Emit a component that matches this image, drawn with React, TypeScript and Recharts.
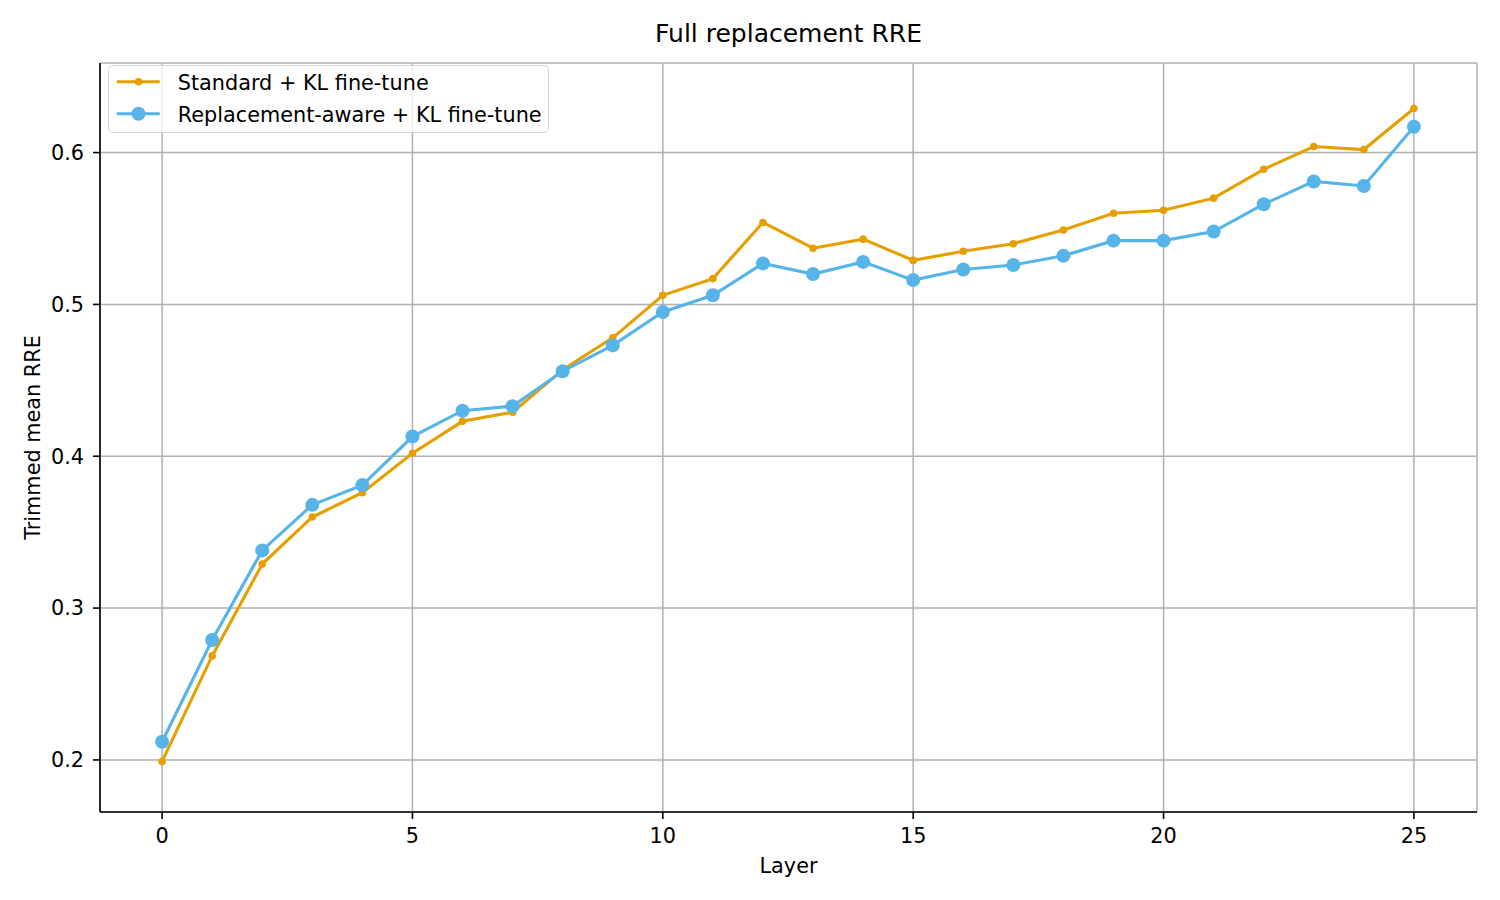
import React from "react";
import {
  CartesianGrid,
  Line,
  LineChart,
  XAxis,
  YAxis,
} from "recharts";

const layers = [0, 1, 2, 3, 4, 5, 6, 7, 8, 9, 10, 11, 12, 13, 14, 15, 16, 17, 18, 19, 20, 21, 22, 23, 24, 25];

const standardKl = [
  0.199, 0.2685, 0.329, 0.36, 0.376, 0.402, 0.423, 0.429, 0.457, 0.478, 0.506, 0.517, 0.554,
  0.537, 0.543, 0.529, 0.535, 0.54, 0.549, 0.56, 0.562, 0.57, 0.589, 0.604, 0.602, 0.629,
];

const replacementAwareKl = [
  0.212, 0.279, 0.338, 0.368, 0.381, 0.413, 0.43, 0.433, 0.456, 0.473, 0.495, 0.506, 0.527,
  0.52, 0.528, 0.516, 0.523, 0.526, 0.532, 0.542, 0.542, 0.548, 0.566, 0.581, 0.578, 0.617,
];

const xTicks = [0, 5, 10, 15, 20, 25];
const yTicks = [0.2, 0.3, 0.4, 0.5, 0.6];

const ORANGE = "#E69F00";
const BLUE = "#56B4E9";
const FONT = "'DejaVu Sans', sans-serif";
const FS = 20.8;

const legendItems = [
  { label: "Standard + KL fine-tune", color: ORANGE, r: 3.8 },
  { label: "Replacement-aware + KL fine-tune", color: BLUE, r: 7 },
];

const chartData = layers.map((layer, i) => ({
  layer,
  standard: standardKl[i],
  aware: replacementAwareKl[i],
}));

const tickStyle = { fontSize: FS, fill: "#000", fontFamily: FONT };
const axisStroke = { stroke: "#000", strokeWidth: 1.6 };

export default function App() {
  return (
    <div
      style={{
        position: "absolute",
        left: 0,
        top: 0,
        width: 1500,
        height: 900,
        background: "#fff",
        fontFamily: FONT,
      }}
    >
      <div
        style={{
          position: "absolute",
          top: 19,
          left: 100,
          width: 1377,
          textAlign: "center",
          fontSize: 25,
          color: "#000",
        }}
      >
        Full replacement RRE
      </div>
      <LineChart
        width={1500}
        height={900}
        data={chartData}
        margin={{ top: 63, right: 23, bottom: 27, left: 30 }}
      >
        <CartesianGrid stroke="#b0b0b0" strokeWidth={1.5} />
        <XAxis
          dataKey="layer"
          type="number"
          domain={[-1.24, 26.26]}
          ticks={xTicks}
          allowDataOverflow
          height={61}
          tick={tickStyle}
          tickSize={7}
          tickMargin={9}
          tickLine={axisStroke}
          axisLine={axisStroke}
          label={{
            value: "Layer",
            position: "insideBottom",
            offset: 0,
            style: { fontSize: FS, fill: "#000", fontFamily: FONT },
          }}
        />
        <XAxis
          xAxisId="top"
          orientation="top"
          dataKey="layer"
          type="number"
          domain={[-1.24, 26.26]}
          height={0}
          tick={false}
          tickLine={false}
          axisLine={axisStroke}
        />
        <YAxis
          type="number"
          domain={[0.1657, 0.659]}
          ticks={yTicks}
          allowDataOverflow
          width={70}
          tick={tickStyle}
          tickSize={7}
          tickMargin={9}
          tickFormatter={(v: number) => v.toFixed(1)}
          tickLine={axisStroke}
          axisLine={axisStroke}
          label={{
            value: "Trimmed mean RRE",
            angle: -90,
            position: "insideLeft",
            offset: 3,
            style: { fontSize: FS, fill: "#000", fontFamily: FONT, textAnchor: "middle" },
          }}
        />
        <YAxis
          yAxisId="right"
          orientation="right"
          type="number"
          domain={[0.1657, 0.659]}
          width={0}
          tick={false}
          tickLine={false}
          axisLine={axisStroke}
        />
        <Line
          type="linear"
          dataKey="standard"
          stroke={ORANGE}
          strokeWidth={3.1}
          dot={{ r: 3.8, fill: ORANGE, stroke: "none" }}
          isAnimationActive={false}
        />
        <Line
          type="linear"
          dataKey="aware"
          stroke={BLUE}
          strokeWidth={3.1}
          dot={{ r: 7, fill: BLUE, stroke: "none" }}
          isAnimationActive={false}
        />
      </LineChart>
      <div
        style={{
          position: "absolute",
          left: 108,
          top: 65,
          width: 441,
          height: 68,
          boxSizing: "border-box",
          border: "1.3px solid #d6d6d6",
          borderRadius: 5,
          background: "rgba(255,255,255,0.8)",
        }}
      >
        <svg width={438} height={65} style={{ position: "absolute", left: 0, top: 0 }}>
          {legendItems.map((item, i) => (
            <g key={item.label}>
              <line
                x1={7.7}
                y1={15.7 + i * 32}
                x2={50.7}
                y2={15.7 + i * 32}
                stroke={item.color}
                strokeWidth={3.1}
              />
              <circle cx={29.5} cy={15.7 + i * 32} r={item.r} fill={item.color} />
            </g>
          ))}
        </svg>
        {legendItems.map((item, i) => (
          <div
            key={item.label}
            style={{
              position: "absolute",
              left: 68.7,
              top: 4.5 + i * 32,
              lineHeight: "24px",
              whiteSpace: "nowrap",
              fontSize: FS,
              color: "#000",
            }}
          >
            {item.label}
          </div>
        ))}
      </div>
    </div>
  );
}
